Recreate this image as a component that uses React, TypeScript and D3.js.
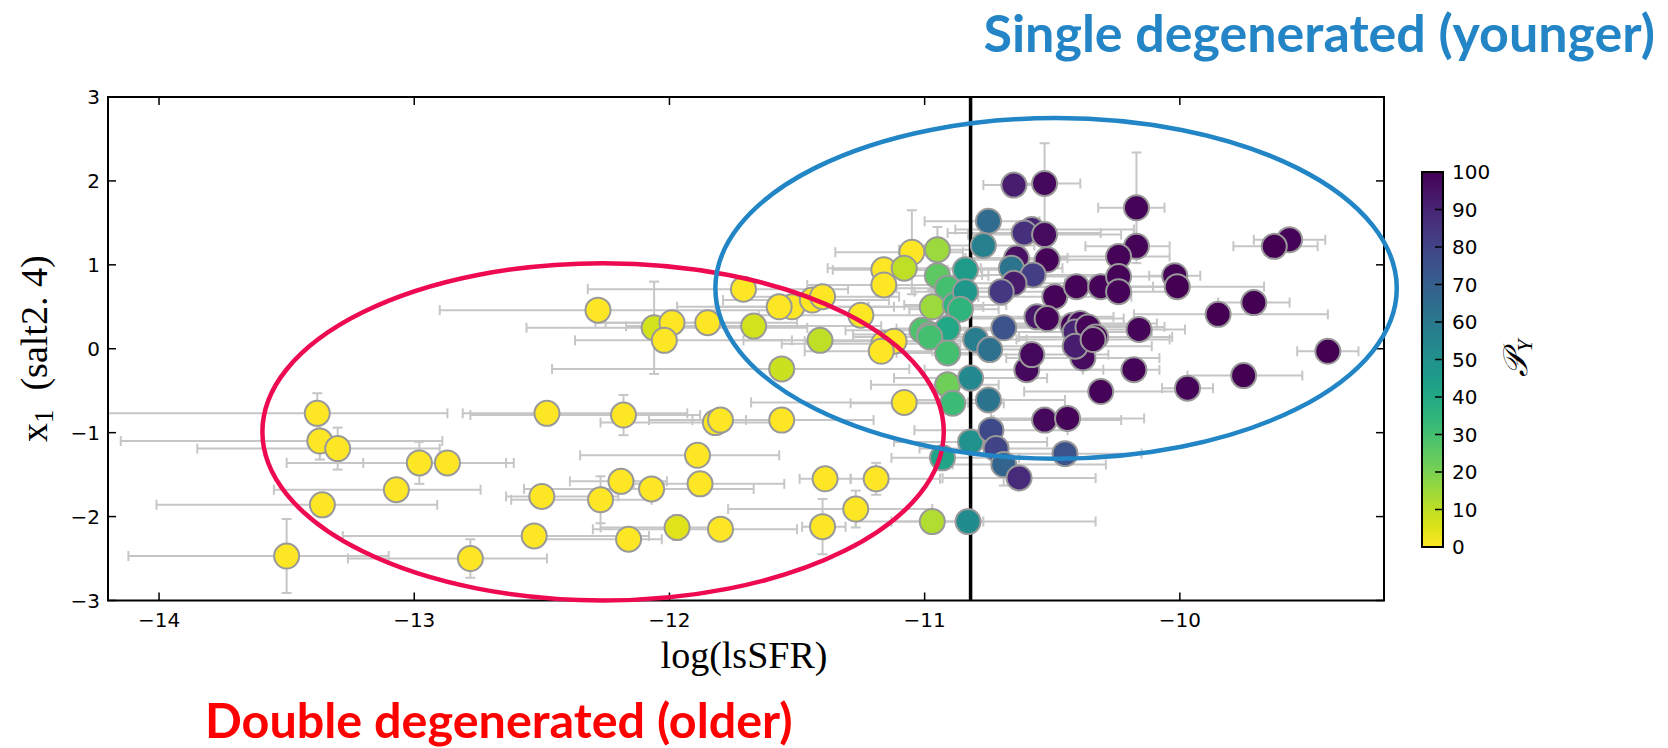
import React from "react";
import * as d3 from "d3";

const W = 1668;
const H = 748;

// Local specific star-formation rate, log scale
const lsSFR = [
  -13.38, -12.48, -13.37, -13.30, -12.98, -12.87, -13.07, -13.36, -12.50, -12.53,
  -13.50, -12.78, -12.18, -11.82, -11.80, -11.56, -11.89, -12.19, -12.07, -11.88,
  -12.27, -11.39, -11.19, -11.27, -11.40, -11.97, -11.80, -12.16, -12.28, -12.06,
  -11.99, -12.02, -11.85, -11.71, -11.67, -11.52, -11.57, -11.44, -11.40, -11.56,
  -11.41, -11.25, -11.16, -11.16, -11.16, -11.12, -11.17, -11.08, -11.05, -10.95,
  -11.08, -10.95, -10.91, -10.97, -10.88, -10.84, -10.84, -10.86, -11.01, -10.98,
  -10.91, -10.98, -10.91, -10.91, -10.89, -10.93, -10.97, -10.83, -10.82, -10.80,
  -10.745, -10.82, -10.75, -10.74, -10.72, -10.69, -10.63, -10.45, -10.60, -10.58,
  -10.53, -10.44, -10.31, -10.18, -9.97, -9.75, -9.42, -10.17, -10.17, -9.57,
  -9.63, -10.02, -10.01, -9.71, -9.85, -10.16, -10.75, -10.77, -10.65, -10.53,
  -10.58, -10.61, -10.53, -10.24, -10.64, -10.52, -10.66, -10.575, -10.65, -10.70,
  -10.49, -10.405, -10.31, -10.24, -10.24, -10.69, -10.56, -10.52, -10.42, -10.39,
  -10.41, -10.36, -10.33, -10.38, -10.41, -10.34,
];

// SALT2.4 stretch
const x1 = [
  -0.77, -0.77, -1.10, -1.19, -1.36, -1.36, -1.68, -1.86, -1.76, -2.23,
  -2.47, -2.50, -0.79, -0.88, -0.85, -0.85, -1.27, -1.58, -1.67, -1.61,
  -1.80, -1.55, -1.55, -1.91, -2.12, -2.13, -2.15, -2.27, 0.46, 0.25,
  0.31, 0.10, 0.31, 0.71, 0.27, 0.50, 0.50, 0.58, 0.62, -0.24,
  0.10, 0.40, 0.94, 0.76, 0.06, 0.09, -0.03, -0.64, 1.15, 1.18,
  0.96, 0.87, 0.72, 0.50, 0.52, 0.94, 0.68, 0.47, 0.22, 0.17,
  0.24, 0.14, -0.05, -0.43, -0.65, -1.30, -2.06, -2.06, -1.11, 0.11,
  -0.01, -0.35, -0.61, -0.97, -1.19, -1.38, -1.54, -1.25, -0.25, -0.07,
  -0.85, -0.83, -0.51, -0.25, -0.47, -0.32, -0.03, 1.68, 1.22, 1.30,
  1.22, 0.87, 0.74, 0.55, 0.41, 0.23, 1.52, 1.23, 1.95, 1.97,
  1.42, 1.38, 1.36, 1.10, 1.08, 1.06, 0.96, 0.88, 0.78, 0.68,
  0.62, 0.74, 0.74, 0.86, 0.68, 0.25, 0.38, 0.36, 0.28, 0.30,
  0.20, 0.26, 0.14, -0.11, 0.03, 0.11,
];

// Lower / upper uncertainty on log(lsSFR)
const lsSFRErrLo = [
  1.22, 0.33, 0.78, 0.55, 0.52, 0.33, 0.48, 0.65, 0.14, 0.75,
  0.62, 0.48, 0.60, 0.45, 0.28, 0.35, 0.46, 0.20, 0.50, 0.26,
  0.35, 0.10, 0.10, 0.50, 0.08, 0.30, 0.50, 0.40, 0.62, 0.50,
  0.30, 0.35, 0.40, 0.61, 0.50, 0.30, 0.40, 0.35, 0.30, 0.90,
  0.30, 0.40, 0.20, 0.30, 0.40, 0.35, 0.30, 0.60, 0.30, 0.15,
  0.30, 0.20, 0.20, 0.25, 0.20, 0.20, 0.20, 0.20, 0.30, 0.30,
  0.20, 0.30, 0.20, 0.30, 0.40, 0.20, 0.30, 0.30, 0.30, 0.20,
  0.20, 0.30, 0.30, 0.30, 0.30, 0.20, 0.30, 0.30, 0.40, 0.30,
  0.20, 0.30, 0.30, 0.20, 0.10, 0.22, 0.12, 0.15, 0.20, 0.14,
  0.16, 0.10, 0.19, 0.14, 0.33, 0.30, 0.25, 0.30, 0.12, 0.15,
  0.30, 0.30, 0.30, 0.30, 0.20, 0.30, 0.20, 0.20, 0.20, 0.20,
  0.30, 0.30, 0.30, 0.30, 0.20, 0.30, 0.30, 0.30, 0.30, 0.30,
  0.30, 0.30, 0.30, 0.30, 0.30, 0.30,
];
const lsSFRErrHi = [
  0.51, 0.55, 0.48, 0.40, 0.34, 0.26, 0.33, 0.45, 0.30, 0.45,
  0.40, 0.30, 0.30, 0.22, 0.10, 0.36, 0.32, 0.18, 0.40, 0.33,
  0.20, 0.10, 0.25, 0.30, 0.09, 0.15, 0.30, 0.13, 0.68, 0.60,
  0.30, 0.50, 0.35, 0.41, 0.50, 0.30, 0.45, 0.30, 0.30, 0.50,
  0.30, 0.40, 0.25, 0.30, 0.30, 0.30, 0.20, 0.25, 0.20, 0.15,
  0.30, 0.20, 0.20, 0.20, 0.20, 0.25, 0.20, 0.15, 0.30, 0.20,
  0.20, 0.20, 0.20, 0.20, 0.20, 0.30, 0.20, 0.50, 0.30, 0.20,
  0.20, 0.30, 0.30, 0.30, 0.30, 0.40, 0.30, 0.30, 0.30, 0.30,
  0.30, 0.30, 0.30, 0.10, 0.10, 0.23, 0.12, 0.11, 0.13, 0.14,
  0.17, 0.10, 0.34, 0.14, 0.43, 0.18, 0.20, 0.20, 0.12, 0.14,
  0.40, 0.30, 0.30, 0.20, 0.20, 0.30, 0.20, 0.30, 0.20, 0.20,
  0.30, 0.30, 0.30, 0.20, 0.20, 0.30, 0.30, 0.30, 0.30, 0.30,
  0.30, 0.30, 0.30, 0.30, 0.30, 0.30,
];

// Symmetric uncertainty on x1
const x1Err = [
  0.24, 0.10, 0.22, 0.25, 0.25, 0.08, 0.06, 0.06, 0.08, 0.12,
  0.44, 0.23, 0.24, 0.10, 0.10, 0.06, 0.06, 0.10, 0.05, 0.06,
  0.28, 0.08, 0.19, 0.22, 0.33, 0.15, 0.10, 0.08, 0.10, 0.55,
  0.10, 0.10, 0.10, 0.08, 0.10, 0.08, 0.10, 0.10, 0.10, 0.06,
  0.13, 0.10, 0.10, 0.12, 0.10, 0.10, 0.10, 0.07, 0.50, 0.27,
  0.10, 0.10, 0.10, 0.20, 0.10, 0.10, 0.10, 0.10, 0.10, 0.10,
  0.10, 0.10, 0.10, 0.10, 0.10, 0.10, 0.10, 0.05, 0.10, 0.10,
  0.10, 0.10, 0.10, 0.10, 0.10, 0.25, 0.10, 0.10, 0.10, 0.10,
  0.10, 0.10, 0.10, 0.10, 0.05, 0.05, 0.05, 0.66, 0.10, 0.08,
  0.08, 0.06, 0.06, 0.08, 0.08, 0.06, 0.12, 0.10, 0.10, 0.48,
  0.10, 0.10, 0.10, 0.10, 0.10, 0.10, 0.10, 0.10, 0.10, 0.10,
  0.10, 0.10, 0.10, 0.10, 0.10, 0.10, 0.10, 0.10, 0.10, 0.10,
  0.10, 0.10, 0.10, 0.10, 0.10, 0.10,
];

// Probability (%) of being from the younger population
const pY = [
  0, 0, 0, 0, 0, 0, 0, 0, 0, 0,
  0, 0, 0, 1, 0, 0, 0, 0, 0, 0,
  0, 0, 0, 0, 0, 5, 0, 0, 0, 7,
  0, 0, 0, 0, 7, 0, 0, 0, 0, 8,
  10, 0, 0, 0, 0, 0, 0, 0, 0, 15,
  10, 25, 30, 15, 35, 45, 47, 35, 28, 27,
  40, 30, 30, 22, 32, 42, 12, 52, 50, 58,
  63, 53, 62, 78, 80, 68, 88, 75, 98, 98,
  98, 99, 99, 99, 99, 100, 100, 99, 99, 99,
  100, 99, 100, 100, 100, 99, 65, 57, 92, 98,
  90, 86, 97, 99, 96, 99, 62, 82, 93, 84,
  99, 99, 99, 99, 99, 75, 94, 99, 99, 97,
  90, 99, 99, 97, 92, 99,
];

const xTicks = [-14, -13, -12, -11, -10];
const yTicks = [-3, -2, -1, 0, 1, 2, 3];
const cbTicks = [0, 10, 20, 30, 40, 50, 60, 70, 80, 90, 100];

const lsSFRCut = -10.82;

// Population regions (data units: centre and half-axes)
const olderRegion = { cx: -12.26, cy: -0.99, rx: 1.335, ry: 2.01 };
const youngerRegion = { cx: -10.485, cy: 0.72, rx: 1.335, ry: 2.03 };

const plot = { left: 108, right: 1384, top: 97, bottom: 600.5 };
const cbar = { left: 1422, right: 1443, top: 172, bottom: 547 };

const xScale = d3.scaleLinear().domain([-14.2, -9.2]).range([plot.left, plot.right]);
const yScale = d3.scaleLinear().domain([-3, 3]).range([plot.bottom, plot.top]);
const cbScale = d3.scaleLinear().domain([0, 100]).range([cbar.bottom, cbar.top]);
const colorOf = (p: number) => d3.interpolateViridis(1 - p / 100);
const fmt = d3.format("d");

const tickFont = "DejaVu Sans, sans-serif";
const mathFont = "Liberation Serif, DejaVu Serif, serif";

export default function App() {
  const points = lsSFR.map((v, i) => ({
    x: v,
    y: x1[i],
    lo: lsSFRErrLo[i],
    hi: lsSFRErrHi[i],
    ey: x1Err[i],
    p: pY[i],
  }));

  const cap = 5;
  const errColor = "#c6c6c6";
  const gradStops = d3.range(0, 1.0001, 0.05);

  return (
    <svg
      width={W}
      height={H}
      style={{ position: "absolute", left: 0, top: 0, background: "#fff" }}
    >
      <defs>
        <clipPath id="plotClip">
          <rect
            x={plot.left}
            y={plot.top}
            width={plot.right - plot.left}
            height={plot.bottom - plot.top}
          />
        </clipPath>
        <linearGradient id="viridisBar" x1="0" y1="1" x2="0" y2="0">
          {gradStops.map((t) => (
            <stop key={t} offset={`${t * 100}%`} stopColor={colorOf(t * 100)} />
          ))}
        </linearGradient>
      </defs>

      <rect x={0} y={0} width={W} height={H} fill="#fff" />

      {/* error bars */}
      <g clipPath="url(#plotClip)" stroke={errColor} strokeWidth={2} fill="none">
        {points.map((d, i) => {
          const cx = xScale(d.x);
          const cy = yScale(d.y);
          const xl = xScale(d.x - d.lo);
          const xr = xScale(d.x + d.hi);
          const yt = yScale(d.y + d.ey);
          const yb = yScale(d.y - d.ey);
          return (
            <g key={i}>
              <line x1={xl} x2={xr} y1={cy} y2={cy} />
              <line x1={xl} x2={xl} y1={cy - cap} y2={cy + cap} />
              <line x1={xr} x2={xr} y1={cy - cap} y2={cy + cap} />
              <line x1={cx} x2={cx} y1={yt} y2={yb} />
              <line x1={cx - cap} x2={cx + cap} y1={yt} y2={yt} />
              <line x1={cx - cap} x2={cx + cap} y1={yb} y2={yb} />
            </g>
          );
        })}
      </g>

      {/* lsSFR split */}
      <line
        x1={xScale(lsSFRCut)}
        x2={xScale(lsSFRCut)}
        y1={plot.top}
        y2={plot.bottom}
        stroke="#000"
        strokeWidth={3.5}
      />

      {/* supernovae */}
      <g>
        {points.map((d, i) => (
          <circle
            key={i}
            cx={xScale(d.x)}
            cy={yScale(d.y)}
            r={12.5}
            fill={colorOf(d.p)}
            stroke="#999"
            strokeWidth={2}
          />
        ))}
      </g>

      {/* frame and ticks */}
      <g stroke="#000" strokeWidth={1.5}>
        {xTicks.map((t) => (
          <g key={t}>
            <line x1={xScale(t)} x2={xScale(t)} y1={plot.bottom} y2={plot.bottom - 8} />
            <line x1={xScale(t)} x2={xScale(t)} y1={plot.top} y2={plot.top + 8} />
          </g>
        ))}
        {yTicks.map((t) => (
          <g key={t}>
            <line x1={plot.left} x2={plot.left + 8} y1={yScale(t)} y2={yScale(t)} />
            <line x1={plot.right} x2={plot.right - 8} y1={yScale(t)} y2={yScale(t)} />
          </g>
        ))}
      </g>
      <rect
        x={plot.left}
        y={plot.top}
        width={plot.right - plot.left}
        height={plot.bottom - plot.top}
        fill="none"
        stroke="#000"
        strokeWidth={2}
      />

      <g fontFamily={tickFont} fontSize={20} fill="#000">
        {xTicks.map((t) => (
          <text key={t} x={xScale(t)} y={plot.bottom + 26} textAnchor="middle">
            {fmt(t)}
          </text>
        ))}
        {yTicks.map((t) => (
          <text key={t} x={plot.left - 8} y={yScale(t) + 7} textAnchor="end">
            {fmt(t)}
          </text>
        ))}
      </g>

      {/* axis titles */}
      <text
        x={(plot.left + plot.right) / 2 - 2}
        y={668}
        textAnchor="middle"
        fontFamily={mathFont}
        fontSize={38}
        fill="#000"
      >
        log(lsSFR)
      </text>
      <text
        transform={`translate(47, ${(plot.top + plot.bottom) / 2}) rotate(-90)`}
        textAnchor="middle"
        fontFamily={mathFont}
        fontSize={38}
        fill="#000"
      >
        x
        <tspan fontSize={27} dy={6}>1</tspan>
        <tspan dy={-6}>{"\u2002(salt2. 4)"}</tspan>
      </text>

      {/* colour bar */}
      <rect
        x={cbar.left}
        y={cbar.top}
        width={cbar.right - cbar.left}
        height={cbar.bottom - cbar.top}
        fill="url(#viridisBar)"
        stroke="#000"
        strokeWidth={2}
      />
      <g stroke="#000" strokeWidth={1.5}>
        {cbTicks.map((t) => (
          <line key={t} x1={cbar.right} x2={cbar.right - 8} y1={cbScale(t)} y2={cbScale(t)} />
        ))}
      </g>
      <g fontFamily={tickFont} fontSize={20} fill="#000">
        {cbTicks.map((t) => (
          <text key={t} x={cbar.right + 9} y={cbScale(t) + 7}>
            {fmt(t)}
          </text>
        ))}
      </g>
      <text
        transform={`translate(1527, 358) rotate(-90)`}
        textAnchor="middle"
        fontFamily={mathFont}
        fontStyle="italic"
        fontSize={34}
        fill="#000"
      >
        {"\uD835\uDCAB"}
        <tspan fontSize={22} dy={5}>Y</tspan>
      </text>

      {/* population regions */}
      <ellipse
        cx={xScale(olderRegion.cx)}
        cy={yScale(olderRegion.cy)}
        rx={xScale(olderRegion.cx + olderRegion.rx) - xScale(olderRegion.cx)}
        ry={yScale(olderRegion.cy) - yScale(olderRegion.cy + olderRegion.ry)}
        fill="none"
        stroke="#ee0a50"
        strokeWidth={4.5}
      />
      <ellipse
        cx={xScale(youngerRegion.cx)}
        cy={yScale(youngerRegion.cy)}
        rx={xScale(youngerRegion.cx + youngerRegion.rx) - xScale(youngerRegion.cx)}
        ry={yScale(youngerRegion.cy) - yScale(youngerRegion.cy + youngerRegion.ry)}
        fill="none"
        stroke="#2185c6"
        strokeWidth={4.5}
      />

      <text
        x={1655}
        y={52}
        textAnchor="end"
        fontFamily="Lato, sans-serif"
        fontWeight={700}
        fontSize={52}
        fill="#2385c6"
      >
        Single degenerated (younger)
      </text>
      <text
        x={205}
        y={738}
        fontFamily="Lato, sans-serif"
        fontWeight={700}
        fontSize={48.5}
        fill="#ff0000"
      >
        Double degenerated (older)
      </text>
    </svg>
  );
}
